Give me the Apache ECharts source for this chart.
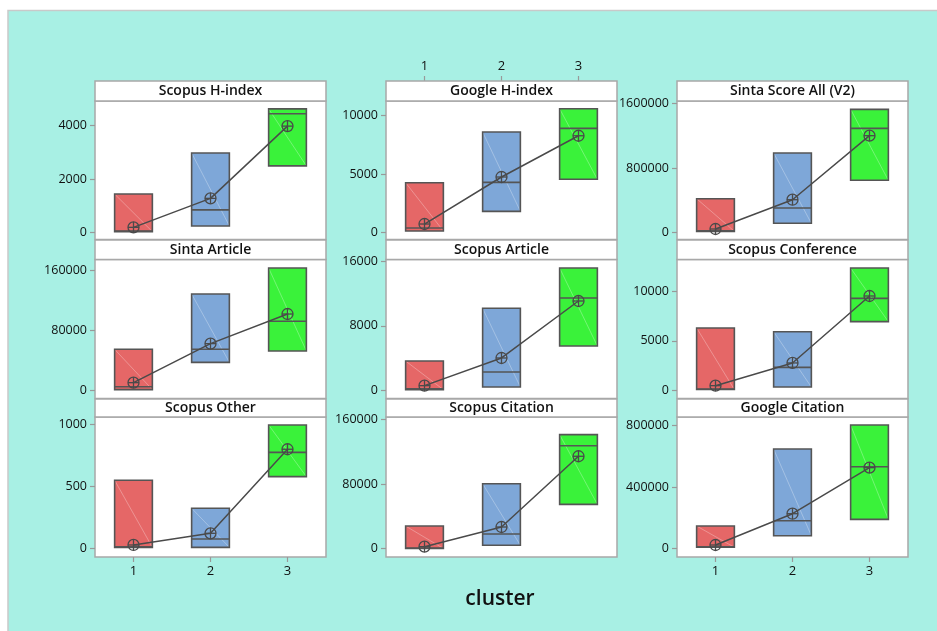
<!DOCTYPE html>
<html>
<head>
<meta charset="utf-8">
<script src="https://cdn.jsdelivr.net/npm/echarts@6/dist/echarts.min.js"></script>
<style>
html,body{margin:0;padding:0;background:#fff;}
#chart{width:937px;height:631px;}
</style>
</head>
<body>
<div id="chart"></div>
<script>
// ---- data ----
const categories = ['1', '2', '3'];
const panelTitles = ['Scopus H-index', 'Google H-index', 'Sinta Score All (V2)',
  'Sinta Article', 'Scopus Article', 'Scopus Conference',
  'Scopus Other', 'Scopus Citation', 'Google Citation'];

// boxes: [Q1, median, Q3] per cluster
const scopusHIndexBox = [[40, 60, 1440], [250, 850, 2970], [2490, 4430, 4610]];
const scopusHIndexMean = [200, 1280, 3970];
const googleHIndexBox = [[145, 400, 4260], [1820, 4290, 8580], [4550, 8890, 10560]];
const googleHIndexMean = [740, 4745, 8260];
const sintaScoreBox = [[17000, 25000, 420600], [116000, 305000, 986000], [648000, 1291000, 1526000]];
const sintaScoreMean = [45800, 408000, 1200000];
const sintaArticleBox = [[500, 4400, 54400], [37000, 54400, 128400], [52200, 91900, 163200]];
const sintaArticleMean = [9800, 62000, 101600];
const scopusArticleBox = [[40, 160, 3610], [370, 2240, 10180], [5480, 11460, 15200]];
const scopusArticleMean = [540, 3990, 11090];
const scopusConferenceBox = [[50, 100, 6310], [300, 2300, 5930], [6950, 9320, 12400]];
const scopusConferenceMean = [440, 2750, 9560];
const scopusOtherBox = [[11, 15, 552], [11, 78, 326], [581, 777, 998]];
const scopusOtherMean = [30, 124, 802];
const scopusCitationBox = [[300, 800, 28100], [4200, 18200, 80600], [55000, 127700, 141400]];
const scopusCitationMean = [2500, 26900, 114600];
const googleCitationBox = [[9100, 12000, 147600], [84600, 182000, 648400], [191000, 533000, 804500]];
const googleCitationMean = [24000, 227600, 527000];

// y tick labels per panel
const yTicks = [[0, 2000, 4000], [0, 5000, 10000], [0, 800000, 1600000],
  [0, 80000, 160000], [0, 8000, 16000], [0, 5000, 10000],
  [0, 500, 1000], [0, 80000, 160000], [0, 400000, 800000]];
const yMin = [-253, -579, -84100, -11370, -1059, -864, -67, -10300, -54000];
const yMax = [4905, 11221, 1629100, 174500, 16260, 13270, 1062, 163300, 856600];

const boxes = [scopusHIndexBox, googleHIndexBox, sintaScoreBox, sintaArticleBox, scopusArticleBox,
  scopusConferenceBox, scopusOtherBox, scopusCitationBox, googleCitationBox];
const means = [scopusHIndexMean, googleHIndexMean, sintaScoreMean, sintaArticleMean, scopusArticleMean,
  scopusConferenceMean, scopusOtherMean, scopusCitationMean, googleCitationMean];

// ---- layout ----
const colLeft = [95, 386, 677];
const colWidth = 231;
const stripTop = [81, 240, 399];
const plotTop = [101, 259.5, 417];
const plotBottom = [239.5, 398.5, 557];
const boxColors = ['#e56767', '#7ea7d8', '#3af23a'];
const FONT = '"Open Sans", "Noto Sans", sans-serif';

const chart = echarts.init(document.getElementById('chart'), null, {renderer: 'canvas'});

const grids = [], xAxes = [], yAxes = [], series = [];
const graphics = [
  {type: 'rect', shape: {x: 0, y: 0, width: 937, height: 631}, style: {fill: '#ffffff'}, silent: true, z: -10},
  {type: 'rect', shape: {x: 8, y: 10.5, width: 940, height: 640}, style: {fill: '#a8f0e4', stroke: '#c9c9c9', lineWidth: 1.5}, silent: true, z: -9}
];

function renderBox(params, api) {
  const idx = api.value(0);
  const top = api.coord([idx, api.value(3)]);
  const bot = api.coord([idx, api.value(1)]);
  const med = api.coord([idx, api.value(2)]);
  const w = api.size([1, 0])[0] * 0.49;
  const left = top[0] - w / 2;
  return {
    type: 'group',
    children: [
      {type: 'rect', shape: {x: left, y: top[1], width: w, height: bot[1] - top[1]},
        style: {fill: boxColors[idx], stroke: null}},
      {type: 'line', shape: {x1: left, y1: top[1], x2: left + w, y2: bot[1]},
        style: {stroke: 'rgba(255,255,255,0.42)', lineWidth: 0.7}},
      {type: 'rect', shape: {x: left, y: top[1], width: w, height: bot[1] - top[1]},
        style: {fill: null, stroke: '#555555', lineWidth: 1.6}},
      {type: 'line', shape: {x1: left, y1: med[1], x2: left + w, y2: med[1]},
        style: {stroke: '#555555', lineWidth: 1.6}}
    ]
  };
}

function renderMean(params, api) {
  const p = api.coord([api.value(0), api.value(1)]);
  const r = 5.5;
  const st = {stroke: '#4a4a4a', lineWidth: 1.3, fill: null};
  return {
    type: 'group',
    children: [
      {type: 'circle', shape: {cx: p[0], cy: p[1], r: r}, style: st},
      {type: 'line', shape: {x1: p[0] - r, y1: p[1], x2: p[0] + r, y2: p[1]}, style: st},
      {type: 'line', shape: {x1: p[0], y1: p[1] - r, x2: p[0], y2: p[1] + r}, style: st}
    ]
  };
}

for (let i = 0; i < 9; i++) {
  const row = Math.floor(i / 3), col = i % 3;
  grids.push({
    left: colLeft[col], top: plotTop[row], width: colWidth, height: plotBottom[row] - plotTop[row],
    show: true, borderColor: '#a8a8a8', borderWidth: 1.5, backgroundColor: '#ffffff', containLabel: false
  });
  const showTop = (i === 1);
  const showBottom = (i === 6 || i === 8);
  xAxes.push({
    type: 'category', gridIndex: i, data: categories, boundaryGap: true,
    position: showTop ? 'top' : 'bottom',
    offset: showTop ? (plotTop[row] - stripTop[row]) : 0,
    axisLine: {show: false, onZero: false},
    axisTick: {show: showTop || showBottom, alignWithLabel: true, length: 5, lineStyle: {color: '#999', width: 1.2}},
    axisLabel: {show: showTop || showBottom, margin: 8, fontSize: 13, color: '#111', fontFamily: FONT},
    splitLine: {show: false}
  });
  yAxes.push({
    type: 'value', gridIndex: i, min: yMin[i], max: yMax[i],
    axisLine: {show: false},
    axisTick: {show: true, length: 5, customValues: yTicks[i], lineStyle: {color: '#999', width: 1.2}},
    axisLabel: {show: true, customValues: yTicks[i], margin: 8, fontSize: 12.5, color: '#111', fontFamily: FONT,
      formatter: v => String(v)},
    splitLine: {show: false}
  });
  series.push({
    type: 'custom', xAxisIndex: i, yAxisIndex: i, renderItem: renderBox, z: 2,
    encode: {x: 0, y: [1, 2, 3]},
    data: boxes[i].map((b, k) => [k, b[0], b[1], b[2]]),
    silent: true, animation: false
  });
  series.push({
    type: 'line', xAxisIndex: i, yAxisIndex: i, data: means[i], z: 3,
    symbol: 'none', lineStyle: {color: '#4a4a4a', width: 1.5}, silent: true, animation: false
  });
  series.push({
    type: 'custom', xAxisIndex: i, yAxisIndex: i, renderItem: renderMean, z: 4,
    encode: {x: 0, y: 1},
    data: means[i].map((m, k) => [k, m]),
    silent: true, animation: false
  });
  // strip
  graphics.push({
    type: 'rect', silent: true, z: 5,
    shape: {x: colLeft[col], y: stripTop[row], width: colWidth, height: plotTop[row] - stripTop[row]},
    style: {fill: '#ffffff', stroke: '#a8a8a8', lineWidth: 1.5}
  });
  graphics.push({
    type: 'text', silent: true, z: 6,
    x: colLeft[col] + colWidth / 2, y: (stripTop[row] + plotTop[row]) / 2 + 0.5,
    style: {text: panelTitles[i], fill: '#111', font: '600 14px ' + FONT, textAlign: 'center', textVerticalAlign: 'middle'}
  });
}

graphics.push({
  type: 'text', silent: true, z: 6, x: 500, y: 599,
  style: {text: 'cluster', fill: '#111', font: '600 21px ' + FONT, textAlign: 'center', textVerticalAlign: 'middle'}
});

chart.setOption({
  animation: false,
  backgroundColor: '#ffffff',
  grid: grids,
  xAxis: xAxes,
  yAxis: yAxes,
  series: series,
  graphic: graphics
});
</script>
</body>
</html>
